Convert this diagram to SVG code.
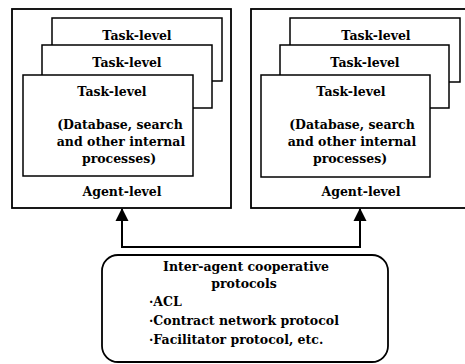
<svg xmlns="http://www.w3.org/2000/svg" width="465" height="364" viewBox="0 0 465 364">
<defs>
<style>
.box{fill:#fff;stroke:#000;stroke-width:1.8}
.tb{fill:#fff;stroke:#000;stroke-width:1.5}
text{font-family:"DejaVu Serif","Liberation Serif",serif;font-weight:bold;font-size:12.5px;fill:#000}
.c{text-anchor:middle}
.conn{fill:none;stroke:#000;stroke-width:2}
</style>
<marker id="ah" markerWidth="13" markerHeight="14" refX="12" refY="6.5" orient="auto" markerUnits="userSpaceOnUse" viewBox="0 0 13 13">
<path d="M0,0 L13,6.5 L0,13 Z" fill="#000"/>
</marker>
</defs>
<rect width="465" height="364" fill="#fff"/>
<g id="agent-left">
<rect class="box" x="12" y="9" width="219" height="199"/>
<rect class="tb" x="52" y="18" width="170" height="63"/>
<text class="c" x="137" y="40">Task-level</text>
<rect class="tb" x="42" y="45" width="170" height="63"/>
<text class="c" x="127" y="67">Task-level</text>
<rect class="tb" x="23" y="75" width="170" height="101"/>
<text class="c" x="112" y="96">Task-level</text>
<text class="c" x="120" y="129">(Database, search</text>
<text class="c" x="121" y="146">and other internal</text>
<text class="c" x="119" y="163">processes)</text>
<text class="c" x="122" y="196">Agent-level</text>
</g>
<g id="agent-right">
<rect class="box" x="251" y="9" width="230" height="199"/>
<rect class="tb" x="290" y="18" width="170" height="64"/>
<text class="c" x="376" y="40">Task-level</text>
<rect class="tb" x="280" y="45" width="169" height="63"/>
<text class="c" x="365" y="67">Task-level</text>
<rect class="tb" x="261" y="75" width="169" height="102"/>
<text class="c" x="351" y="96">Task-level</text>
<text class="c" x="352" y="129">(Database, search</text>
<text class="c" x="352" y="146">and other internal</text>
<text class="c" x="350" y="163">processes)</text>
<text class="c" x="361" y="196">Agent-level</text>
</g>
<g id="protocols">
<rect class="box" x="102" y="255" width="286" height="107" rx="16" ry="16"/>
<text class="c" x="246" y="271">Inter-agent cooperative</text>
<text class="c" x="244" y="288">protocols</text>
<text x="149" y="306">·ACL</text>
<text x="149" y="325">·Contract network protocol</text>
<text x="149" y="344">·Facilitator protocol, etc.</text>
</g>
<g id="connectors">
<path class="conn" d="M122,247 L122,209" marker-end="url(#ah)"/>
<path class="conn" d="M360,247 L360,209" marker-end="url(#ah)"/>
<path class="conn" d="M121,247 L361,247"/>
</g>
</svg>
